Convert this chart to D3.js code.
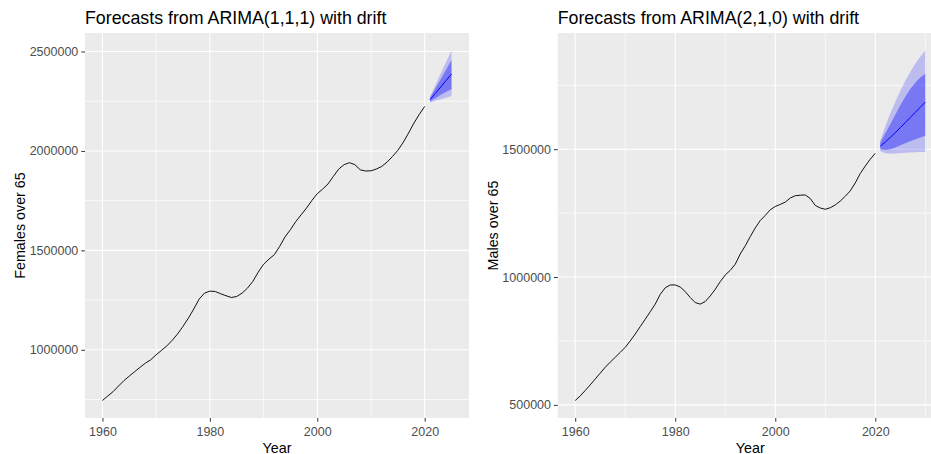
<!DOCTYPE html>
<html>
<head>
<meta charset="utf-8">
<script src="https://cdn.jsdelivr.net/npm/d3@7/dist/d3.min.js"></script>
<style>
  body { margin: 0; background: #fff; }
  svg { display: block; font-family: "Liberation Sans", Arial, sans-serif; }
</style>
</head>
<body>
<svg id="chart" width="931" height="454"></svg>
<script>
// history runs 1960..2020
const histYears = d3.range(1960, 2021);

const femalesHist = [
  745000, 768000, 790000, 818000, 845000, 868000, 890000, 912000, 933000, 950000,
  975000, 997000, 1020000, 1048000, 1080000, 1118000, 1159000, 1205000, 1255000, 1285000,
  1295000, 1293000, 1282000, 1272000, 1263000, 1268000, 1285000, 1310000, 1344000, 1390000,
  1430000, 1456000, 1478000, 1520000, 1568000, 1604000, 1645000, 1679000, 1713000, 1751000,
  1785000, 1808000, 1834000, 1872000, 1909000, 1931000, 1941000, 1931000, 1905000, 1899000,
  1900000, 1909000, 1922000, 1944000, 1972000, 2003000, 2043000, 2090000, 2140000, 2184000,
  2224000
];
const femalesFcYears = [2021, 2022, 2023, 2024, 2025];
const femalesMean = [2258000, 2290000, 2322000, 2355000, 2387000];
const femalesLo80 = [2248000, 2265000, 2283000, 2298000, 2310000];
const femalesUp80 = [2268000, 2315000, 2362000, 2410000, 2457000];
const femalesLo95 = [2243000, 2252000, 2260000, 2268000, 2276000];
const femalesUp95 = [2274000, 2332000, 2390000, 2448000, 2505000];

const malesHist = [
  517000, 535000, 556000, 578000, 601000, 624000, 647000, 667000, 686000, 705000,
  725000, 750000, 777000, 806000, 835000, 864000, 894000, 932000, 958000, 969000,
  969000, 961000, 943000, 920000, 900000, 894000, 904000, 926000, 952000, 982000,
  1008000, 1026000, 1050000, 1090000, 1122000, 1158000, 1192000, 1221000, 1241000, 1263000,
  1276000, 1284000, 1293000, 1309000, 1318000, 1320000, 1321000, 1307000, 1280000, 1270000,
  1265000, 1271000, 1282000, 1297000, 1316000, 1337000, 1368000, 1405000, 1434000, 1461000,
  1484000
];
const malesFcYears = [2021, 2022, 2023, 2024, 2025, 2026, 2027, 2028, 2029, 2030];
const malesMean = [1512000, 1528000, 1546000, 1565000, 1584000, 1604000, 1624000, 1644000, 1664000, 1684000];
const malesLo80 = [1500000, 1497000, 1500000, 1507000, 1515000, 1523000, 1531000, 1539000, 1546000, 1553000];
const malesUp80 = [1526000, 1562000, 1598000, 1635000, 1672000, 1705000, 1735000, 1760000, 1780000, 1795000];
const malesLo95 = [1492000, 1484000, 1482000, 1483000, 1484000, 1486000, 1487000, 1488000, 1489000, 1489000];
const malesUp95 = [1534000, 1590000, 1640000, 1686000, 1728000, 1768000, 1803000, 1835000, 1862000, 1886000];

const xMajor = [1960, 1980, 2000, 2020];
const xMinor = [1970, 1990, 2010, 2030];
const femalesYTicks = [1000000, 1500000, 2000000, 2500000];
const femalesYMinor = [750000, 1250000, 1750000, 2250000];
const malesYTicks = [500000, 1000000, 1500000];
const malesYMinor = [750000, 1250000, 1750000];

const svg = d3.select('#chart');

function drawPanel(p) {
  const years = histYears.concat(p.fcYears);
  const vals = p.hist.concat(p.lo95, p.up95);
  const [xa, xb] = d3.extent(years);
  const [ya, yb] = d3.extent(vals);
  const xPad = (xb - xa) * 0.05;
  const yPad = (yb - ya) * 0.05;

  const x = d3.scaleLinear().domain([xa - xPad, xb + xPad]).range([p.left, p.right]);
  const y = d3.scaleLinear().domain([ya - yPad, yb + yPad]).range([p.bottom, p.top]);
  const inX = v => v >= x.domain()[0] && v <= x.domain()[1];
  const inY = v => v >= y.domain()[0] && v <= y.domain()[1];

  const g = svg.append('g');
  g.append('rect')
    .attr('x', p.left).attr('y', p.top)
    .attr('width', p.right - p.left).attr('height', p.bottom - p.top)
    .attr('fill', '#EBEBEB');

  // grid
  const grid = g.append('g').attr('stroke', '#fff');
  grid.selectAll('.vmin').data(xMinor.filter(inX)).join('line')
    .attr('x1', d => x(d)).attr('x2', d => x(d)).attr('y1', p.top).attr('y2', p.bottom)
    .attr('stroke-width', 0.7);
  grid.selectAll('.hmin').data(p.yMinor.filter(inY)).join('line')
    .attr('y1', d => y(d)).attr('y2', d => y(d)).attr('x1', p.left).attr('x2', p.right)
    .attr('stroke-width', 0.7);
  grid.selectAll('.vmaj').data(xMajor.filter(inX)).join('line')
    .attr('x1', d => x(d)).attr('x2', d => x(d)).attr('y1', p.top).attr('y2', p.bottom)
    .attr('stroke-width', 1.1);
  grid.selectAll('.hmaj').data(p.yTicks.filter(inY)).join('line')
    .attr('y1', d => y(d)).attr('y2', d => y(d)).attr('x1', p.left).attr('x2', p.right)
    .attr('stroke-width', 1.1);

  // forecast bands
  const fc = p.fcYears.map((yr, i) => ({
    yr, mean: p.mean[i], lo80: p.lo80[i], up80: p.up80[i], lo95: p.lo95[i], up95: p.up95[i]
  }));
  g.append('path').datum(fc)
    .attr('fill', '#0000FF').attr('fill-opacity', 0.2)
    .attr('d', d3.area().x(d => x(d.yr)).y0(d => y(d.lo95)).y1(d => y(d.up95)));
  g.append('path').datum(fc)
    .attr('fill', '#0000FF').attr('fill-opacity', 0.36)
    .attr('d', d3.area().x(d => x(d.yr)).y0(d => y(d.lo80)).y1(d => y(d.up80)));
  g.append('path').datum(fc)
    .attr('fill', 'none').attr('stroke', '#0000FF').attr('stroke-width', 1)
    .attr('d', d3.line().x(d => x(d.yr)).y(d => y(d.mean)));

  g.append('path').datum(p.hist)
    .attr('fill', 'none').attr('stroke', '#111').attr('stroke-width', 1)
    .attr('d', d3.line().x((d, i) => x(histYears[i])).y(d => y(d)));

  // axes
  const ax = g.append('g')
    .attr('transform', `translate(0,${p.bottom})`)
    .call(d3.axisBottom(x).tickValues(xMajor.filter(inX)).tickFormat(d3.format('d'))
      .tickSize(3.7).tickPadding(5));
  const ay = g.append('g')
    .attr('transform', `translate(${p.left},0)`)
    .call(d3.axisLeft(y).tickValues(p.yTicks.filter(inY)).tickFormat(d3.format('d'))
      .tickSize(3.7).tickPadding(3));
  [ax, ay].forEach(a => {
    a.select('.domain').remove();
    a.selectAll('line').attr('stroke', '#333333').attr('stroke-width', 1);
    a.selectAll('text').attr('fill', '#4D4D4D').attr('font-size', 12.5)
      .attr('font-family', '"Liberation Sans", Arial, sans-serif');
  });

  svg.append('text')
    .attr('x', p.left).attr('y', 23.5)
    .attr('font-size', 17.8).attr('fill', '#000')
    .text(p.title);
  svg.append('text')
    .attr('x', (p.left + p.right) / 2).attr('y', 452.5)
    .attr('text-anchor', 'middle').attr('font-size', 14.3).attr('fill', '#000')
    .text('Year');
  svg.append('text')
    .attr('transform', `translate(${p.yTitleX},${(p.top + p.bottom) / 2}) rotate(-90)`)
    .attr('text-anchor', 'middle').attr('font-size', 14.3).attr('fill', '#000')
    .text(p.yTitle);
}

drawPanel({
  title: 'Forecasts from ARIMA(1,1,1) with drift', yTitle: 'Females over 65', yTitleX: 24.5,
  left: 85, right: 469, top: 33, bottom: 418,
  hist: femalesHist, fcYears: femalesFcYears, mean: femalesMean,
  lo80: femalesLo80, up80: femalesUp80, lo95: femalesLo95, up95: femalesUp95,
  yTicks: femalesYTicks, yMinor: femalesYMinor
});
drawPanel({
  title: 'Forecasts from ARIMA(2,1,0) with drift', yTitle: 'Males over 65', yTitleX: 498,
  left: 557.7, right: 942.8, top: 33, bottom: 418,
  hist: malesHist, fcYears: malesFcYears, mean: malesMean,
  lo80: malesLo80, up80: malesUp80, lo95: malesLo95, up95: malesUp95,
  yTicks: malesYTicks, yMinor: malesYMinor
});
</script>
</body>
</html>
